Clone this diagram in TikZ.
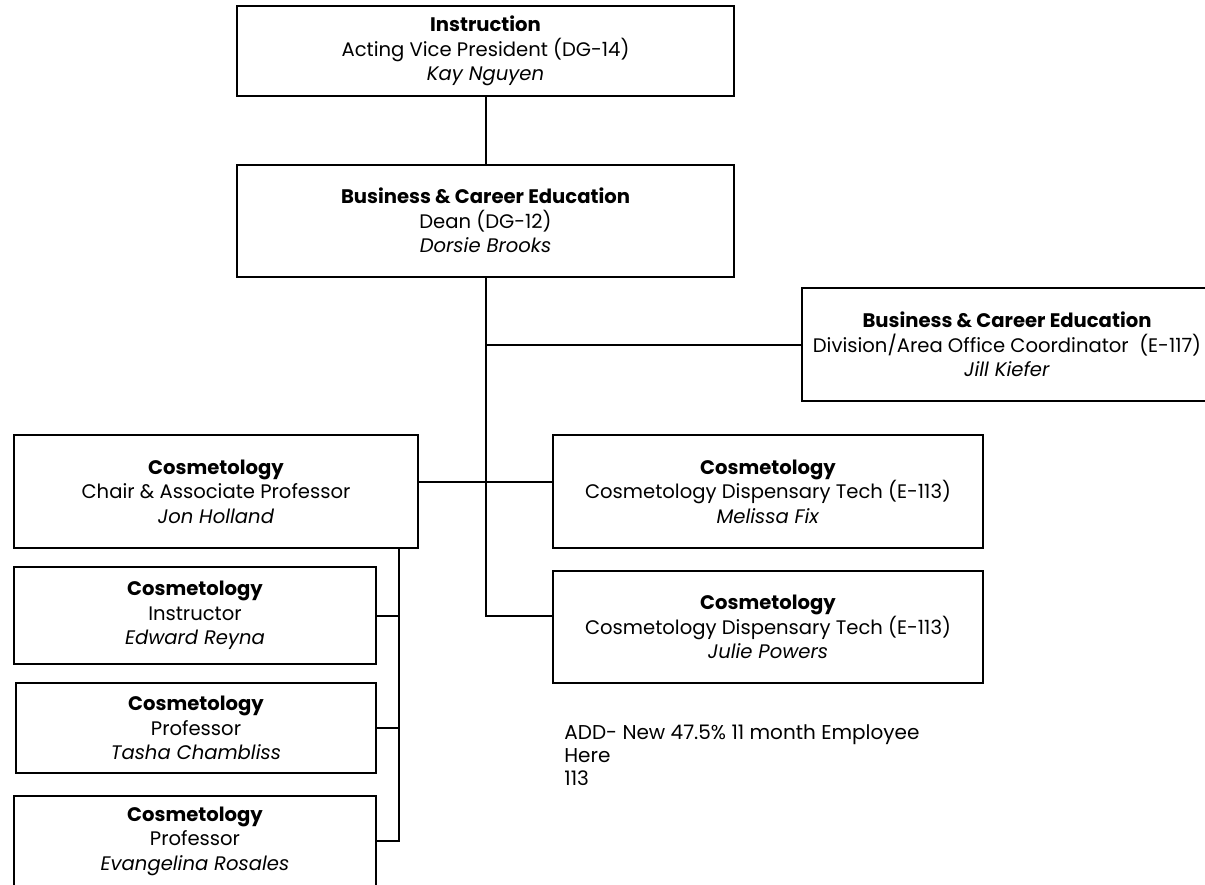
\documentclass[tikz,border=0pt]{standalone}
\usepackage{fontspec}
\setmainfont{Poppins}
\usetikzlibrary{positioning, calc}
\tikzset{
  orgbox/.style={
    draw=black, line width=1pt, fill=white,
    inner sep=0pt, align=center,
    font=\fontsize{9.8}{12.3}\selectfont
  },
  tie/.style={draw=black, line width=1pt},
  notetext/.style={inner sep=0pt, align=left, anchor=west,
    font=\fontsize{10}{11.6}\selectfont},
}
\begin{document}
\begin{tikzpicture}[x=0.5pt, y=-0.5pt]

  % ============ FRAME ============
  \useasboundingbox (0,0) rectangle (1205,884);
  \clip (0,0) rectangle (1205,884);
  \fill[white] (0,0) rectangle (1205,884);

  % ============ UPPER LEVELS ============
  \node[orgbox, minimum width=248.5pt, minimum height=45pt]
    (instr) at (485.5, 51) {\textbf{Instruction}\\Acting Vice President (DG-14)\\\textit{Kay Nguyen}};
  \node[orgbox, minimum width=248.5pt, minimum height=56pt]
    (dean) at (485.5, 220.5) {\textbf{Business \& Career Education}\\Dean (DG-12)\\\textit{Dorsie Brooks}};
  \node[orgbox, minimum width=205pt, minimum height=56.5pt]
    (coord) at (1007, 344.5) {\textbf{Business \& Career Education}\\Division/Area Office Coordinator~~(E-117)\\\textit{Jill Kiefer}};

  % ============ COSMETOLOGY ============
  \node[orgbox, minimum width=202pt, minimum height=56.5pt]
    (chair) at (216, 491.5) {\textbf{Cosmetology}\\Chair \& Associate Professor\\\textit{Jon Holland}};
  \node[orgbox, minimum width=215pt, minimum height=56.5pt]
    (melissa) at (768, 491.5) {\textbf{Cosmetology}\\Cosmetology Dispensary Tech (E-113)\\\textit{Melissa Fix}};
  \node[orgbox, minimum width=215pt, minimum height=56pt]
    (julie) at (768, 627) {\textbf{Cosmetology}\\Cosmetology Dispensary Tech (E-113)\\\textit{Julie Powers}};

  % Faculty under the chair
  \node[orgbox, minimum width=181pt, minimum height=48.5pt]
    (edward) at (195, 615.5) {\textbf{Cosmetology}\\Instructor\\\textit{Edward Reyna}};
  \node[orgbox, minimum width=180pt, minimum height=45pt]
    (tasha) at (196, 728) {\textbf{Cosmetology}\\Professor\\\textit{Tasha Chambliss}};
  \node[orgbox, minimum width=181pt, minimum height=45pt]
    (evang) at (195, 841) {\textbf{Cosmetology}\\Professor\\\textit{Evangelina Rosales}};

  % Note
  \node[notetext] (addnote) at (564, 755) {ADD- New 47.5\% 11 month Employee\\Here\\113};

  % ============ LINKS ============
  \draw[tie] (instr) -- (dean);
  \draw[tie] (dean.south) |- ([yshift=5.5pt]julie.west);
  \draw[tie] (dean.south |- coord.west) -- (coord.west);
  \draw[tie] ([yshift=5pt]chair.east) -- ([yshift=5pt]melissa.west);

  % faculty spine
  \coordinate (spine) at ([xshift=-10pt]chair.south east);
  \draw[tie] (spine) |- (evang.east);
  \foreach \f in {edward, tasha} {
    \draw[tie] (\f.east) -- (\f.east -| spine);
  }

\end{tikzpicture}
\end{document}
